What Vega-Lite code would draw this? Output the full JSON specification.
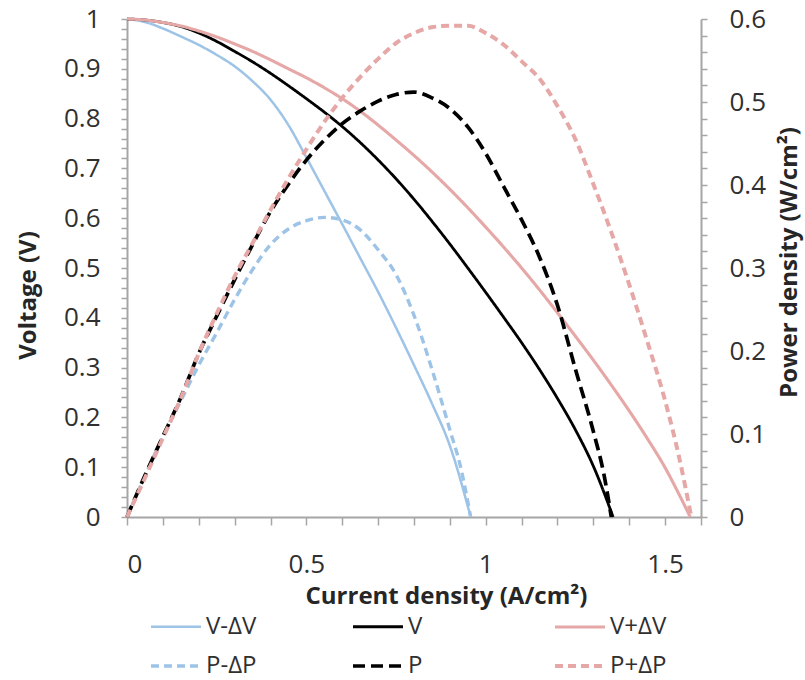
{
"$schema": "https://vega.github.io/schema/vega-lite/v6.json",
"width": 574, "height": 498,
"autosize": {"type": "none"},
"padding": {"left": 127, "top": 19, "right": 104, "bottom": 163},
"config": {"font": "Open Sans", "view": {"stroke": null}, "axis": {"grid": false, "domainColor": "#a6a6a6", "tickColor": "#a6a6a6", "domainWidth": 2, "tickWidth": 1.5, "labelColor": "#303030", "titleColor": "#262626", "labelFont": "Open Sans", "titleFont": "Open Sans", "labelOverlap": false},
  "legend": {"title": null, "orient": "none", "legendX": 22, "legendY": 581, "direction": "horizontal", "columns": 3, "gridAlign": "all",
      "columnPadding": 82, "rowPadding": -7, "symbolType": "stroke", "symbolSize": 2500, "labelFontSize": 24, "labelOffset": 3,
      "labelColor": "#303030", "labelFont": "Open Sans", "padding": 0}},
"data": {"values": [
{"series":"V-ΔV","current":0,"value":1},{"series":"V-ΔV","current":0.05,"value":0.994},{"series":"V-ΔV","current":0.1,"value":0.981},{"series":"V-ΔV","current":0.15,"value":0.965},{"series":"V-ΔV","current":0.2,"value":0.948},{"series":"V-ΔV","current":0.25,"value":0.928},{"series":"V-ΔV","current":0.3,"value":0.905},{"series":"V-ΔV","current":0.35,"value":0.875},{"series":"V-ΔV","current":0.4,"value":0.838},{"series":"V-ΔV","current":0.45,"value":0.787},{"series":"V-ΔV","current":0.5,"value":0.722},{"series":"V-ΔV","current":0.55,"value":0.655},{"series":"V-ΔV","current":0.6,"value":0.588},{"series":"V-ΔV","current":0.65,"value":0.52},{"series":"V-ΔV","current":0.7,"value":0.452},{"series":"V-ΔV","current":0.75,"value":0.38},{"series":"V-ΔV","current":0.8,"value":0.305},{"series":"V-ΔV","current":0.85,"value":0.228},{"series":"V-ΔV","current":0.9,"value":0.143},{"series":"V-ΔV","current":0.958,"value":0},
{"series":"V","current":0,"value":1},{"series":"V","current":0.05,"value":0.998},{"series":"V","current":0.1,"value":0.993},{"series":"V","current":0.15,"value":0.985},{"series":"V","current":0.2,"value":0.972},{"series":"V","current":0.25,"value":0.955},{"series":"V","current":0.3,"value":0.935},{"series":"V","current":0.35,"value":0.914},{"series":"V","current":0.4,"value":0.891},{"series":"V","current":0.45,"value":0.866},{"series":"V","current":0.5,"value":0.84},{"series":"V","current":0.55,"value":0.813},{"series":"V","current":0.6,"value":0.784},{"series":"V","current":0.65,"value":0.752},{"series":"V","current":0.7,"value":0.717},{"series":"V","current":0.75,"value":0.679},{"series":"V","current":0.8,"value":0.638},{"series":"V","current":0.85,"value":0.594},{"series":"V","current":0.9,"value":0.548},{"series":"V","current":0.95,"value":0.5},{"series":"V","current":1.0,"value":0.451},{"series":"V","current":1.05,"value":0.401},{"series":"V","current":1.1,"value":0.35},{"series":"V","current":1.15,"value":0.296},{"series":"V","current":1.2,"value":0.238},{"series":"V","current":1.25,"value":0.175},{"series":"V","current":1.3,"value":0.102},{"series":"V","current":1.355,"value":0},
{"series":"V+ΔV","current":0,"value":1},{"series":"V+ΔV","current":0.05,"value":0.998},{"series":"V+ΔV","current":0.1,"value":0.993},{"series":"V+ΔV","current":0.15,"value":0.986},{"series":"V+ΔV","current":0.2,"value":0.976},{"series":"V+ΔV","current":0.25,"value":0.964},{"series":"V+ΔV","current":0.3,"value":0.95},{"series":"V+ΔV","current":0.35,"value":0.935},{"series":"V+ΔV","current":0.4,"value":0.918},{"series":"V+ΔV","current":0.45,"value":0.9},{"series":"V+ΔV","current":0.5,"value":0.882},{"series":"V+ΔV","current":0.55,"value":0.862},{"series":"V+ΔV","current":0.6,"value":0.84},{"series":"V+ΔV","current":0.65,"value":0.815},{"series":"V+ΔV","current":0.7,"value":0.787},{"series":"V+ΔV","current":0.75,"value":0.757},{"series":"V+ΔV","current":0.8,"value":0.726},{"series":"V+ΔV","current":0.85,"value":0.693},{"series":"V+ΔV","current":0.9,"value":0.658},{"series":"V+ΔV","current":0.95,"value":0.621},{"series":"V+ΔV","current":1.0,"value":0.582},{"series":"V+ΔV","current":1.05,"value":0.542},{"series":"V+ΔV","current":1.1,"value":0.5},{"series":"V+ΔV","current":1.15,"value":0.456},{"series":"V+ΔV","current":1.2,"value":0.41},{"series":"V+ΔV","current":1.25,"value":0.363},{"series":"V+ΔV","current":1.3,"value":0.315},{"series":"V+ΔV","current":1.35,"value":0.265},{"series":"V+ΔV","current":1.4,"value":0.213},{"series":"V+ΔV","current":1.45,"value":0.158},{"series":"V+ΔV","current":1.5,"value":0.099},{"series":"V+ΔV","current":1.535,"value":0.051},{"series":"V+ΔV","current":1.57,"value":0},
{"series":"P-ΔP","current":0,"value":0},{"series":"P-ΔP","current":0.064,"value":0.063},{"series":"P-ΔP","current":0.1,"value":0.097},{"series":"P-ΔP","current":0.15,"value":0.14},{"series":"P-ΔP","current":0.2,"value":0.183},{"series":"P-ΔP","current":0.25,"value":0.222},{"series":"P-ΔP","current":0.3,"value":0.262},{"series":"P-ΔP","current":0.35,"value":0.298},{"series":"P-ΔP","current":0.4,"value":0.328},{"series":"P-ΔP","current":0.45,"value":0.347},{"series":"P-ΔP","current":0.5,"value":0.357},{"series":"P-ΔP","current":0.55,"value":0.361},{"series":"P-ΔP","current":0.6,"value":0.358},{"series":"P-ΔP","current":0.65,"value":0.346},{"series":"P-ΔP","current":0.7,"value":0.322},{"series":"P-ΔP","current":0.75,"value":0.292},{"series":"P-ΔP","current":0.8,"value":0.243},{"series":"P-ΔP","current":0.85,"value":0.178},{"series":"P-ΔP","current":0.9,"value":0.105},{"series":"P-ΔP","current":0.93,"value":0.06},{"series":"P-ΔP","current":0.958,"value":0},
{"series":"P","current":0,"value":0},{"series":"P","current":0.05,"value":0.05},{"series":"P","current":0.1,"value":0.097},{"series":"P","current":0.15,"value":0.144},{"series":"P","current":0.2,"value":0.197},{"series":"P","current":0.25,"value":0.242},{"series":"P","current":0.3,"value":0.286},{"series":"P","current":0.35,"value":0.328},{"series":"P","current":0.4,"value":0.368},{"series":"P","current":0.45,"value":0.401},{"series":"P","current":0.5,"value":0.43},{"series":"P","current":0.55,"value":0.454},{"series":"P","current":0.6,"value":0.474},{"series":"P","current":0.65,"value":0.489},{"series":"P","current":0.7,"value":0.501},{"series":"P","current":0.75,"value":0.509},{"series":"P","current":0.8,"value":0.512},{"series":"P","current":0.85,"value":0.505},{"series":"P","current":0.9,"value":0.492},{"series":"P","current":0.95,"value":0.47},{"series":"P","current":1.0,"value":0.438},{"series":"P","current":1.05,"value":0.398},{"series":"P","current":1.1,"value":0.358},{"series":"P","current":1.15,"value":0.313},{"series":"P","current":1.2,"value":0.255},{"series":"P","current":1.25,"value":0.178},{"series":"P","current":1.3,"value":0.103},{"series":"P","current":1.33,"value":0.05},{"series":"P","current":1.35,"value":0},
{"series":"P+ΔP","current":0,"value":0},{"series":"P+ΔP","current":0.05,"value":0.047},{"series":"P+ΔP","current":0.1,"value":0.095},{"series":"P+ΔP","current":0.15,"value":0.143},{"series":"P+ΔP","current":0.2,"value":0.197},{"series":"P+ΔP","current":0.25,"value":0.245},{"series":"P+ΔP","current":0.3,"value":0.29},{"series":"P+ΔP","current":0.35,"value":0.33},{"series":"P+ΔP","current":0.4,"value":0.37},{"series":"P+ΔP","current":0.45,"value":0.408},{"series":"P+ΔP","current":0.5,"value":0.443},{"series":"P+ΔP","current":0.55,"value":0.476},{"series":"P+ΔP","current":0.6,"value":0.505},{"series":"P+ΔP","current":0.65,"value":0.53},{"series":"P+ΔP","current":0.7,"value":0.552},{"series":"P+ΔP","current":0.75,"value":0.571},{"series":"P+ΔP","current":0.8,"value":0.583},{"series":"P+ΔP","current":0.85,"value":0.59},{"series":"P+ΔP","current":0.9,"value":0.592},{"series":"P+ΔP","current":0.95,"value":0.592},{"series":"P+ΔP","current":1.0,"value":0.583},{"series":"P+ΔP","current":1.05,"value":0.569},{"series":"P+ΔP","current":1.1,"value":0.549},{"series":"P+ΔP","current":1.15,"value":0.528},{"series":"P+ΔP","current":1.2,"value":0.495},{"series":"P+ΔP","current":1.25,"value":0.455},{"series":"P+ΔP","current":1.3,"value":0.401},{"series":"P+ΔP","current":1.35,"value":0.343},{"series":"P+ΔP","current":1.4,"value":0.28},{"series":"P+ΔP","current":1.45,"value":0.212},{"series":"P+ΔP","current":1.5,"value":0.14},{"series":"P+ΔP","current":1.54,"value":0.07},{"series":"P+ΔP","current":1.573,"value":0}
]},
"encoding": {
  "x": {"field": "current", "type": "quantitative", "scale": {"domain": [0, 1.6], "nice": false, "zero": false},
    "axis": {"title": "Current density (A/cm²)", "values": [0,0.1,0.2,0.3,0.4,0.5,0.6,0.7,0.8,0.9,1,1.1,1.2,1.3,1.4,1.5,1.6],
      "labelExpr": "abs(datum.value*2 - round(datum.value*2)) < 0.000001 ? format(datum.value, '~g') : ''",
      "tickSize": 8, "labelPadding": 26, "labelFontSize": 26, "titleFontSize": 24, "titleFontWeight": "bold",
      "titleX": 319, "titleY": 86, "titleBaseline": "alphabetic", "titleAnchor": null}},
  "color": {"field": "series", "type": "nominal",
    "scale": {"domain": ["V-ΔV","V","V+ΔV","P-ΔP","P","P+ΔP"], "range": ["#9dc3e6","#000000","#e6a7a7","#9dc3e6","#000000","#e6a7a7"]}},
  "strokeDash": {"field": "series", "type": "nominal",
    "scale": {"domain": ["V-ΔV","V","V+ΔV","P-ΔP","P","P+ΔP"], "range": [[1,0],[1,0],[1,0],[8,5],[12,6],[8,5]]}},
  "strokeWidth": {"field": "series", "type": "nominal",
    "scale": {"domain": ["V-ΔV","V","V+ΔV","P-ΔP","P","P+ΔP"], "range": [2.5,4,2.5,2.5,4,2.5]}}
},
"layer": [
  {"transform": [{"filter": {"field": "series", "oneOf": ["V-ΔV","V","V+ΔV"]}}],
   "mark": {"type": "line", "interpolate": "monotone"},
   "encoding": {"y": {"field": "value", "type": "quantitative", "scale": {"domain": [0, 1], "nice": false},
     "axis": {"title": "Voltage (V)", "orient": "left",
       "values": [0,0.02,0.04,0.06,0.08,0.1,0.12,0.14,0.16,0.18,0.2,0.22,0.24,0.26,0.28,0.3,0.32,0.34,0.36,0.38,0.4,0.42,0.44,0.46,0.48,0.5,0.52,0.54,0.56,0.58,0.6,0.62,0.64,0.66,0.68,0.7,0.72,0.74,0.76,0.78,0.8,0.82,0.84,0.86,0.88,0.9,0.92,0.94,0.96,0.98,1],
       "labelExpr": "abs(datum.value*10 - round(datum.value*10)) < 0.000001 ? format(datum.value, '~g') : ''",
       "tickSize": 6, "labelPadding": 21, "labelFontSize": 26, "titleFontSize": 24, "titleFontWeight": "bold",
       "titleAngle": 270, "titleX": -99, "titleY": 276, "titleBaseline": "middle", "titleAnchor": null}}}},
  {"transform": [{"filter": {"field": "series", "oneOf": ["P-ΔP","P","P+ΔP"]}}],
   "mark": {"type": "line", "interpolate": "monotone"},
   "encoding": {"y": {"field": "value", "type": "quantitative", "scale": {"domain": [0, 0.6], "nice": false},
     "axis": {"title": "Power density (W/cm²)", "orient": "right",
       "values": [0,0.02,0.04,0.06,0.08,0.1,0.12,0.14,0.16,0.18,0.2,0.22,0.24,0.26,0.28,0.3,0.32,0.34,0.36,0.38,0.4,0.42,0.44,0.46,0.48,0.5,0.52,0.54,0.56,0.58,0.6],
       "labelExpr": "abs(datum.value*10 - round(datum.value*10)) < 0.000001 ? format(datum.value, '~g') : ''",
       "tickSize": 6, "labelPadding": 22, "labelFontSize": 26, "titleFontSize": 24, "titleFontWeight": "bold",
       "titleAngle": 270, "titleX": 88, "titleY": 243, "titleBaseline": "middle", "titleAnchor": null}}}}
],
"resolve": {"scale": {"y": "independent"}}
}
